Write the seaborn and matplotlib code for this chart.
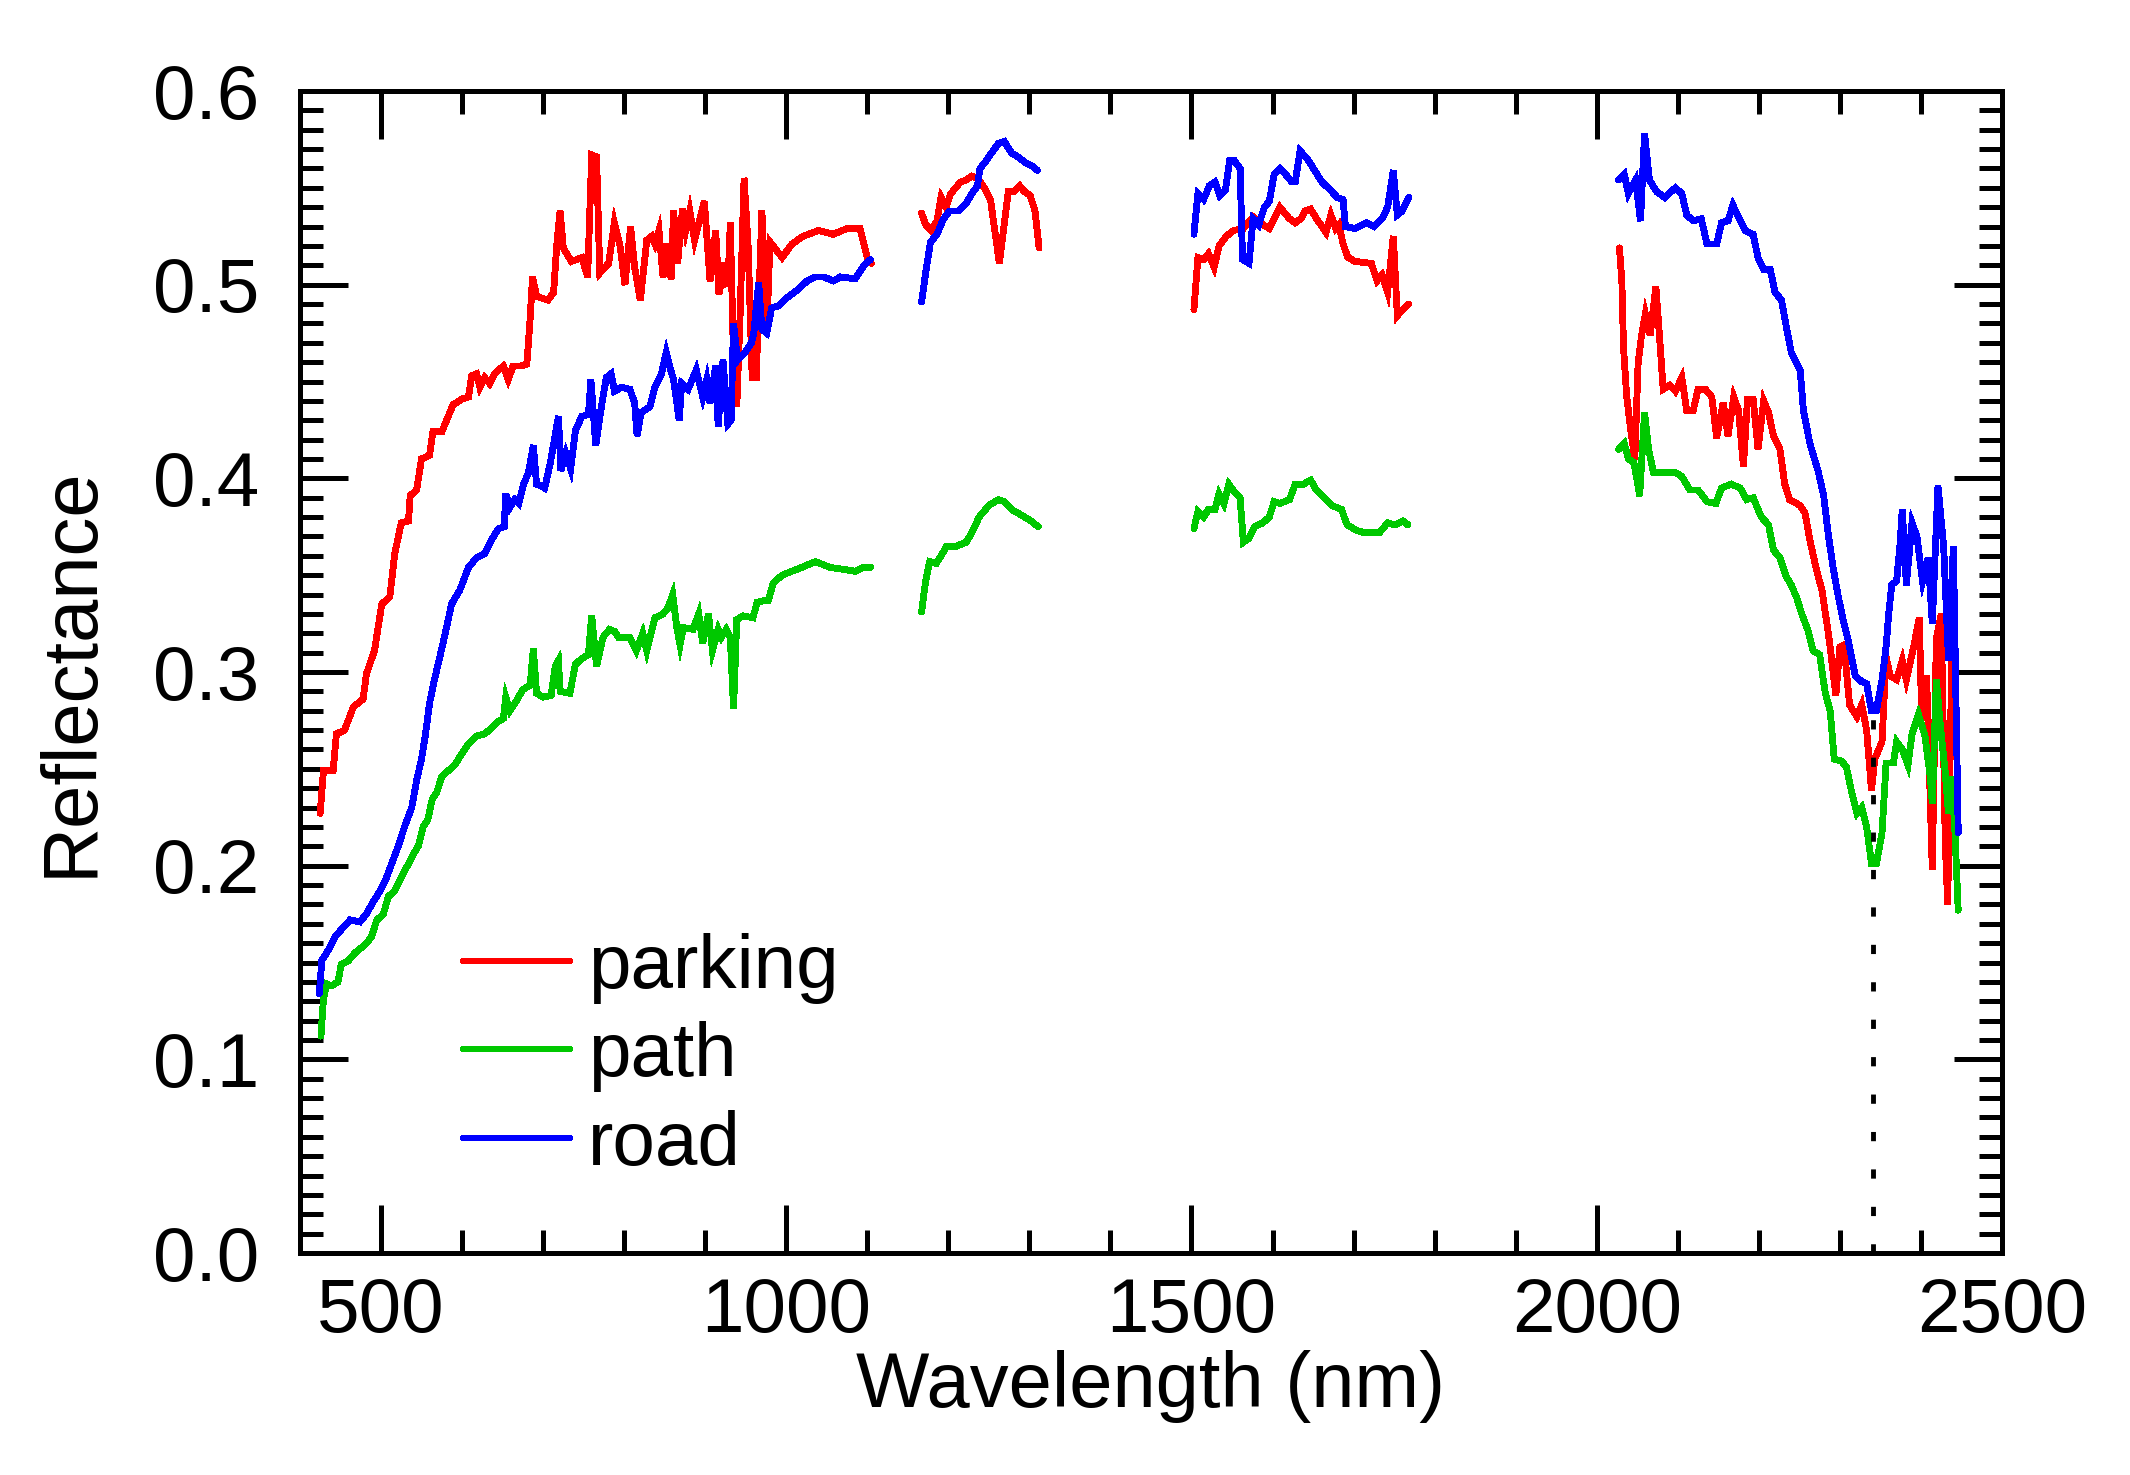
import matplotlib
matplotlib.use("Agg")
import matplotlib.pyplot as plt
import numpy as np
import pandas as pd
import seaborn as sns
from matplotlib.ticker import MultipleLocator, FormatStrFormatter

# ---------------- data ----------------
SURFACES = ["parking", "path", "road"]
COLORS = {"parking": "#FF0000", "path": "#00C800", "road": "#0000FF"}

# parking (red)
PARKING_A_WL = [425, 429, 441, 445, 455, 466, 478, 482, 492, 501,
                511, 517, 525, 534, 536, 544, 550, 560, 564, 575,
                583, 589, 600, 608, 612, 618, 622, 628, 634, 640,
                651, 657, 663, 673, 680, 684, 687, 692, 706, 713,
                717, 721, 725, 735, 748, 755, 760, 766, 770, 774,
                781, 788, 795, 801, 808, 813, 820, 828, 834, 838,
                843, 848, 852, 858, 861, 866, 872, 876, 881, 887,
                893, 899, 906, 913, 917, 924, 928, 931, 935, 939,
                943, 948, 953, 958, 963, 970, 976, 980, 995, 1007,
                1021, 1040, 1058, 1075, 1091, 1100, 1105]
PARKING_A_R = [0.227, 0.249, 0.249, 0.268, 0.270, 0.282, 0.286, 0.299, 0.311, 0.335,
               0.339, 0.361, 0.377, 0.378, 0.391, 0.394, 0.410, 0.412, 0.424, 0.424,
               0.432, 0.438, 0.441, 0.442, 0.453, 0.454, 0.447, 0.452, 0.449, 0.454,
               0.458, 0.451, 0.458, 0.458, 0.459, 0.482, 0.504, 0.494, 0.492, 0.496,
               0.521, 0.538, 0.519, 0.512, 0.514, 0.504, 0.567, 0.566, 0.506, 0.508,
               0.511, 0.532, 0.520, 0.500, 0.530, 0.509, 0.492, 0.523, 0.525, 0.521,
               0.528, 0.504, 0.521, 0.503, 0.538, 0.511, 0.539, 0.528, 0.538, 0.523,
               0.533, 0.543, 0.502, 0.528, 0.495, 0.511, 0.499, 0.532, 0.461, 0.437,
               0.483, 0.555, 0.520, 0.452, 0.452, 0.538, 0.475, 0.522, 0.514, 0.521,
               0.525, 0.528, 0.526, 0.529, 0.529, 0.514, 0.511]
PARKING_B_WL = [1167, 1172, 1179, 1186, 1191, 1197, 1203, 1215, 1222, 1229,
                1236, 1243, 1252, 1263, 1274, 1281, 1288, 1294, 1301, 1307, 1312]
PARKING_B_R = [0.537, 0.531, 0.528, 0.533, 0.545, 0.540, 0.547, 0.553, 0.554, 0.556,
               0.555, 0.551, 0.544, 0.511, 0.548, 0.548, 0.551, 0.548, 0.546, 0.538, 0.519]
PARKING_C_WL = [1503, 1508, 1515, 1521, 1528, 1534, 1543, 1552, 1564, 1576,
                1583, 1588, 1596, 1609, 1621, 1628, 1635, 1640, 1647, 1656,
                1666, 1672, 1678, 1682, 1687, 1693, 1702, 1722, 1729, 1735,
                1742, 1749, 1754, 1760, 1768]
PARKING_C_R = [0.487, 0.514, 0.513, 0.516, 0.509, 0.520, 0.525, 0.528, 0.529, 0.535,
               0.533, 0.531, 0.529, 0.540, 0.534, 0.532, 0.534, 0.538, 0.539, 0.533,
               0.527, 0.536, 0.529, 0.531, 0.521, 0.514, 0.512, 0.511, 0.502, 0.505,
               0.496, 0.525, 0.484, 0.487, 0.490]
PARKING_D_WL = [2028, 2031, 2033, 2037, 2042, 2047, 2051, 2055, 2060, 2066,
                2073, 2078, 2082, 2090, 2097, 2105, 2111, 2119, 2125, 2134,
                2142, 2148, 2156, 2162, 2169, 2175, 2181, 2186, 2193, 2199,
                2206, 2212, 2218, 2226, 2232, 2238, 2251, 2257, 2263, 2271,
                2278, 2284, 2288, 2295, 2300, 2305, 2312, 2321, 2327, 2333,
                2339, 2343, 2352, 2357, 2362, 2370, 2377, 2382, 2391, 2398,
                2401, 2407, 2414, 2419, 2425, 2430, 2433, 2438]
PARKING_D_R = [0.519, 0.502, 0.468, 0.442, 0.425, 0.410, 0.459, 0.473, 0.485, 0.474,
               0.499, 0.470, 0.446, 0.448, 0.445, 0.452, 0.435, 0.435, 0.446, 0.446,
               0.442, 0.421, 0.439, 0.422, 0.442, 0.435, 0.406, 0.441, 0.441, 0.415,
               0.440, 0.434, 0.422, 0.415, 0.397, 0.389, 0.386, 0.382, 0.368, 0.353,
               0.342, 0.325, 0.313, 0.288, 0.313, 0.314, 0.283, 0.277, 0.283, 0.270,
               0.239, 0.255, 0.264, 0.308, 0.298, 0.296, 0.306, 0.296, 0.313, 0.328,
               0.275, 0.298, 0.198, 0.317, 0.330, 0.212, 0.180, 0.306]

# path (green)
PATH_A_WL = [426, 429, 433, 439, 447, 451, 460, 468, 480, 488,
             495, 503, 509, 517, 525, 534, 540, 546, 552, 558,
             563, 569, 575, 583, 591, 600, 608, 618, 628, 636,
             643, 651, 654, 659, 667, 675, 684, 688, 692, 700,
             710, 715, 719, 721, 733, 740, 748, 756, 760, 766,
             774, 782, 788, 793, 807, 815, 823, 828, 838, 848,
             854, 860, 865, 869, 873, 885, 892, 897, 904, 909,
             916, 920, 926, 931, 935, 939, 947, 959, 964, 974,
             978, 984, 995, 1007, 1019, 1036, 1054, 1071, 1085, 1095, 1104]
PATH_A_R = [0.112, 0.131, 0.139, 0.138, 0.140, 0.149, 0.151, 0.155, 0.159, 0.163,
            0.172, 0.175, 0.184, 0.187, 0.194, 0.201, 0.206, 0.210, 0.220, 0.224,
            0.234, 0.238, 0.246, 0.249, 0.252, 0.258, 0.263, 0.267, 0.268, 0.271,
            0.274, 0.276, 0.287, 0.280, 0.285, 0.291, 0.293, 0.312, 0.289, 0.287,
            0.288, 0.303, 0.306, 0.290, 0.289, 0.304, 0.307, 0.309, 0.329, 0.303,
            0.318, 0.322, 0.321, 0.318, 0.318, 0.311, 0.320, 0.311, 0.328, 0.330,
            0.333, 0.340, 0.323, 0.314, 0.323, 0.322, 0.330, 0.315, 0.330, 0.311,
            0.322, 0.318, 0.322, 0.318, 0.281, 0.327, 0.329, 0.328, 0.336, 0.337,
            0.337, 0.346, 0.350, 0.352, 0.354, 0.357, 0.354, 0.353, 0.352, 0.354, 0.354]
PATH_B_WL = [1167, 1172, 1177, 1185, 1191, 1198, 1210, 1222, 1229, 1238,
             1250, 1262, 1269, 1278, 1290, 1302, 1311]
PATH_B_R = [0.331, 0.347, 0.357, 0.356, 0.360, 0.365, 0.365, 0.367, 0.372, 0.380,
            0.386, 0.389, 0.388, 0.384, 0.381, 0.378, 0.375]
PATH_C_WL = [1503, 1508, 1515, 1521, 1529, 1534, 1540, 1546, 1553, 1560,
             1564, 1571, 1578, 1588, 1596, 1602, 1609, 1621, 1628, 1638,
             1647, 1654, 1664, 1673, 1685, 1692, 1704, 1713, 1723, 1732,
             1742, 1751, 1761, 1767]
PATH_C_R = [0.374, 0.383, 0.380, 0.384, 0.384, 0.392, 0.387, 0.397, 0.393, 0.390,
            0.367, 0.369, 0.375, 0.377, 0.380, 0.388, 0.387, 0.389, 0.397, 0.397,
            0.399, 0.394, 0.390, 0.386, 0.384, 0.376, 0.373, 0.372, 0.372, 0.372,
            0.377, 0.376, 0.378, 0.376]
PATH_D_WL = [2027, 2034, 2039, 2046, 2053, 2059, 2064, 2070, 2082, 2097,
             2105, 2115, 2125, 2136, 2147, 2154, 2166, 2177, 2185, 2193,
             2203, 2212, 2218, 2226, 2234, 2240, 2247, 2253, 2261, 2267,
             2275, 2282, 2288, 2293, 2302, 2308, 2315, 2321, 2327, 2333,
             2339, 2345, 2352, 2357, 2366, 2370, 2377, 2384, 2389, 2397,
             2405, 2412, 2414, 2419, 2424, 2430, 2434, 2438, 2442, 2446]
PATH_D_R = [0.415, 0.418, 0.410, 0.408, 0.391, 0.434, 0.415, 0.403, 0.403, 0.403,
            0.401, 0.394, 0.394, 0.388, 0.387, 0.395, 0.397, 0.395, 0.389, 0.390,
            0.380, 0.376, 0.363, 0.359, 0.349, 0.345, 0.338, 0.330, 0.321, 0.311,
            0.309, 0.289, 0.280, 0.255, 0.254, 0.251, 0.237, 0.227, 0.230, 0.220,
            0.201, 0.201, 0.217, 0.253, 0.253, 0.264, 0.260, 0.252, 0.268, 0.278,
            0.267, 0.244, 0.232, 0.296, 0.272, 0.248, 0.227, 0.246, 0.217, 0.177]

# road (blue)
ROAD_A_WL = [424, 427, 433, 437, 443, 451, 462, 474, 482, 490,
             499, 507, 515, 523, 529, 538, 544, 550, 555, 560,
             566, 575, 583, 587, 597, 608, 618, 628, 636, 645,
             652, 654, 659, 665, 670, 676, 682, 688, 692, 698,
             702, 709, 719, 722, 728, 734, 740, 748, 756, 759,
             765, 772, 778, 784, 788, 797, 807, 813, 816, 821,
             832, 838, 846, 852, 856, 861, 868, 871, 879, 889,
             897, 902, 906, 913, 916, 922, 928, 932, 935, 940,
             949, 957, 960, 966, 970, 976, 982, 990, 1000, 1013,
             1026, 1036, 1046, 1058, 1067, 1085, 1096, 1104]
ROAD_A_R = [0.134, 0.151, 0.155, 0.158, 0.163, 0.167, 0.172, 0.171, 0.175, 0.181,
            0.187, 0.194, 0.203, 0.212, 0.220, 0.230, 0.244, 0.255, 0.268, 0.284,
            0.296, 0.312, 0.327, 0.335, 0.342, 0.354, 0.359, 0.361, 0.368, 0.374,
            0.375, 0.392, 0.385, 0.389, 0.387, 0.397, 0.403, 0.417, 0.397, 0.396,
            0.395, 0.408, 0.432, 0.404, 0.413, 0.405, 0.425, 0.432, 0.433, 0.451,
            0.417, 0.437, 0.452, 0.454, 0.445, 0.447, 0.446, 0.439, 0.422, 0.434,
            0.437, 0.447, 0.454, 0.465, 0.458, 0.451, 0.430, 0.449, 0.446, 0.456,
            0.442, 0.451, 0.439, 0.458, 0.427, 0.461, 0.428, 0.430, 0.480, 0.461,
            0.465, 0.470, 0.475, 0.501, 0.477, 0.475, 0.488, 0.489, 0.493, 0.497,
            0.502, 0.504, 0.504, 0.502, 0.504, 0.503, 0.510, 0.513]
ROAD_B_WL = [1167, 1172, 1178, 1186, 1193, 1201, 1212, 1222, 1229, 1236,
             1239, 1245, 1255, 1262, 1269, 1278, 1286, 1295, 1304, 1310]
ROAD_B_R = [0.491, 0.506, 0.522, 0.526, 0.533, 0.538, 0.538, 0.542, 0.547, 0.551,
            0.560, 0.563, 0.569, 0.573, 0.574, 0.568, 0.566, 0.563, 0.561, 0.559]
ROAD_C_WL = [1503, 1508, 1515, 1522, 1529, 1535, 1542, 1547, 1553, 1560,
             1563, 1571, 1576, 1583, 1590, 1596, 1602, 1609, 1616, 1624,
             1628, 1634, 1643, 1652, 1661, 1671, 1680, 1687, 1690, 1702,
             1716, 1725, 1735, 1742, 1749, 1754, 1760, 1768]
ROAD_C_R = [0.526, 0.547, 0.544, 0.551, 0.553, 0.546, 0.549, 0.564, 0.564, 0.560,
            0.513, 0.511, 0.534, 0.531, 0.540, 0.543, 0.557, 0.560, 0.557, 0.553,
            0.553, 0.569, 0.565, 0.559, 0.553, 0.549, 0.545, 0.544, 0.530, 0.529,
            0.532, 0.530, 0.534, 0.540, 0.559, 0.536, 0.538, 0.545]
ROAD_D_WL = [2027, 2034, 2039, 2048, 2054, 2059, 2065, 2074, 2084, 2097,
             2105, 2111, 2119, 2129, 2136, 2148, 2154, 2162, 2168, 2175,
             2183, 2193, 2199, 2206, 2214, 2220, 2228, 2234, 2240, 2251,
             2255, 2263, 2273, 2280, 2286, 2292, 2298, 2304, 2310, 2319,
             2327, 2333, 2339, 2345, 2352, 2357, 2360, 2364, 2370, 2374,
             2377, 2382, 2389, 2395, 2402, 2409, 2414, 2421, 2428, 2434,
             2440, 2446]
ROAD_D_R = [0.554, 0.557, 0.547, 0.554, 0.533, 0.578, 0.554, 0.548, 0.545, 0.550,
            0.547, 0.536, 0.533, 0.534, 0.521, 0.521, 0.532, 0.533, 0.541, 0.535,
            0.528, 0.526, 0.514, 0.508, 0.508, 0.496, 0.492, 0.478, 0.465, 0.456,
            0.435, 0.418, 0.404, 0.391, 0.370, 0.353, 0.339, 0.327, 0.317, 0.298,
            0.295, 0.294, 0.280, 0.280, 0.296, 0.313, 0.329, 0.345, 0.347, 0.365,
            0.384, 0.345, 0.377, 0.370, 0.347, 0.359, 0.325, 0.396, 0.365, 0.306,
            0.365, 0.217]

# dotted reference line (absorption feature)
FEATURE_WL = 2341
FEATURE_TOP = 0.285

# ---------------- build the long table ----------------
SEGMENTS = {
    "parking": [(PARKING_A_WL, PARKING_A_R), (PARKING_B_WL, PARKING_B_R),
                (PARKING_C_WL, PARKING_C_R), (PARKING_D_WL, PARKING_D_R)],
    "path": [(PATH_A_WL, PATH_A_R), (PATH_B_WL, PATH_B_R),
             (PATH_C_WL, PATH_C_R), (PATH_D_WL, PATH_D_R)],
    "road": [(ROAD_A_WL, ROAD_A_R), (ROAD_B_WL, ROAD_B_R),
             (ROAD_C_WL, ROAD_C_R), (ROAD_D_WL, ROAD_D_R)],
}
rows = []
for surf in SURFACES:
    for k, (wl, r) in enumerate(SEGMENTS[surf]):
        assert len(wl) == len(r), (surf, k, len(wl), len(r))
        for w, v in zip(wl, r):
            rows.append((surf, f"{surf}-{k}", w, v))
df = pd.DataFrame(rows, columns=["surface", "segment", "wavelength", "reflectance"])

# ---------------- plot ----------------
sns.set_theme(style="white")
plt.rcParams["font.family"] = ["Liberation Sans", "DejaVu Sans"]
plt.rcParams["text.color"] = "black"
plt.rcParams["axes.labelcolor"] = "black"
plt.rcParams["lines.solid_joinstyle"] = "miter"

FS = 55
LW = 4.2

fig = plt.figure(figsize=(21.30, 14.75), dpi=100)
ax = fig.add_axes([0.1408, 0.1505, 0.7991, 0.7878])

sns.lineplot(data=df, x="wavelength", y="reflectance", hue="surface",
             hue_order=SURFACES, palette=COLORS, units="segment",
             estimator=None, sort=False, linewidth=LW, ax=ax)
for ln in ax.lines:
    ln.set_linewidth(LW)
    ln.set_antialiased(False)

ax.vlines(FEATURE_WL, 0, FEATURE_TOP, colors="black", linewidth=3.5,
          linestyles=[(0, (1.9, 5.8))], zorder=5)

ax.set_xlim(400, 2500)
ax.set_ylim(0, 0.6)
ax.xaxis.set_major_locator(MultipleLocator(500))
ax.xaxis.set_minor_locator(MultipleLocator(100))
ax.yaxis.set_major_locator(MultipleLocator(0.1))
ax.yaxis.set_minor_locator(MultipleLocator(0.01))
ax.yaxis.set_major_formatter(FormatStrFormatter("%.1f"))

ax.tick_params(which="both", direction="in", top=True, right=True,
               bottom=True, left=True, width=3.6, color="black",
               labelsize=FS, labelcolor="black")
ax.tick_params(which="major", length=34.5)
ax.tick_params(which="minor", length=16.5)
ax.tick_params(axis="x", which="both", pad=17)
ax.tick_params(axis="y", which="both", pad=29)
for s in ax.spines.values():
    s.set_linewidth(3.6)
    s.set_color("black")

ax.set_xlabel("Wavelength (nm)", fontsize=56, labelpad=2, color="black")
ax.set_ylabel("Reflectance", fontsize=56, labelpad=33, color="black")

handles, labels = ax.get_legend_handles_labels()
leg = ax.legend(handles, labels, loc="center left", bbox_to_anchor=(0.0958, 0.169),
                frameon=False, fontsize=FS, handlelength=1.4, handletextpad=0.24,
                labelspacing=0.23, borderpad=0, borderaxespad=0, labelcolor="black")
for h in leg.get_lines():
    h.set_linewidth(LW)
    h.set_antialiased(False)

fig.savefig("out.png", dpi=100)
